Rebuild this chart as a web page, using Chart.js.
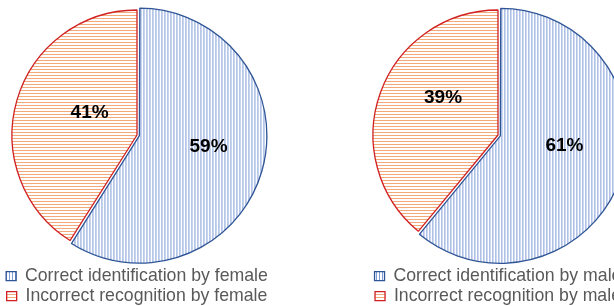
<!DOCTYPE html>
<html><head><meta charset="utf-8">
<script src="https://cdn.jsdelivr.net/npm/chart.js@4/dist/chart.umd.min.js"></script>
<style>
html,body{margin:0;padding:0;background:#fff;overflow:hidden;width:614px;height:306px;position:relative}
.w{position:absolute;top:0;height:315px;width:274px}
</style></head><body>
<div class="w" style="left:0"><canvas id="c1"></canvas></div>
<div class="w" style="left:361px"><canvas id="c2"></canvas></div>
<script>
const categoriesFemale = ['Correct identification by female', 'Incorrect recognition by female'];
const categoriesMale = ['Correct identification by male', 'Incorrect recognition by male'];
const valuesFemale = [59, 41];
const valuesMale = [61, 39];

const FONT = '"Liberation Sans", Arial, sans-serif';

function hatch(ctx, color, dir, period) {
  const c = document.createElement('canvas');
  c.width = period; c.height = period;
  const x = c.getContext('2d');
  x.fillStyle = '#fff'; x.fillRect(0, 0, period, period);
  x.fillStyle = color;
  if (dir === 'v') x.fillRect(0, 0, 1, period); else x.fillRect(0, 0, period, 1);
  return ctx.createPattern(c, 'repeat');
}

const sliceLabels = {
  id: 'sliceLabels',
  afterDatasetsDraw(chart, args, opts) {
    const ctx = chart.ctx;
    const meta = chart.getDatasetMeta(0);
    const ds = chart.data.datasets[0];
    const total = ds.data.reduce((a, b) => a + b, 0);
    ctx.save();
    ctx.font = 'bold 19px ' + FONT;
    ctx.fillStyle = '#000';
    ctx.textAlign = 'center';
    ctx.textBaseline = 'middle';
    meta.data.forEach((arc, i) => {
      const p = arc.getProps(['x', 'y', 'startAngle', 'endAngle', 'outerRadius', 'circumference'], true);
      const mid = (p.startAngle + p.endAngle) / 2;
      const o = (ds.offset[i] || 0) / 4;
      const fix = 1 - Math.sin(Math.min(Math.PI, p.circumference || 0));
      const t = o + o * fix;
      const cx = p.x + Math.cos(mid) * t, cy = p.y + Math.sin(mid) * t;
      const pl = opts.place[i];
      const a = mid + pl.shift * Math.PI / 180;
      const txt = Math.round(ds.data[i] / total * 100) + '%';
      ctx.fillText(txt, cx + Math.cos(a) * p.outerRadius * pl.r, cy + Math.sin(a) * p.outerRadius * pl.r);
    });
    ctx.restore();
  }
};

function makePie(id, labels, values, place) {
  const el = document.getElementById(id);
  const ctx = el.getContext('2d');
  const blue = hatch(ctx, '#7F9DD8', 'v', 3);
  const orange = hatch(ctx, '#F4A97A', 'h', 3);
  return new Chart(el, {
    type: 'pie',
    data: {
      labels: labels,
      datasets: [{
        data: values,
        backgroundColor: [blue, orange],
        borderColor: ['#2F5597', '#D02020'],
        borderWidth: 1.3,
        offset: [10, 0],
        radius: 125
      }]
    },
    options: {
      responsive: true,
      maintainAspectRatio: false,
      animation: false,
      layout: { padding: { top: 5, left: 0, right: 0, bottom: 0 } },
      plugins: {
        tooltip: { enabled: false },
        legend: {
          position: 'bottom',
          labels: {
            boxWidth: 10, boxHeight: 9, padding: 2.3,
            color: '#595959',
            font: { size: 17.7, family: FONT }
          }
        },
        sliceLabels: { place: place }
      }
    },
    plugins: [sliceLabels]
  });
}

makePie('c1', categoriesFemale, valuesFemale, [{ shift: -7.7, r: 0.54 }, { shift: 9.3, r: 0.42 }]);
makePie('c2', categoriesMale, valuesMale, [{ shift: -11.2, r: 0.50 }, { shift: 14.1, r: 0.53 }]);
</script>
</body></html>
